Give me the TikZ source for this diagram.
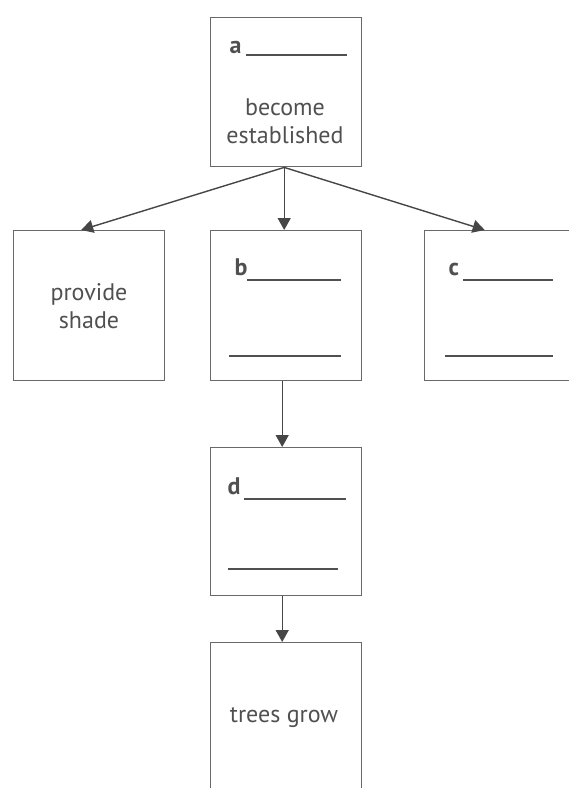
\documentclass[tikz,border=0pt]{standalone}
\usepackage{fontspec}
\setmainfont{PT Sans}
\usetikzlibrary{arrows.meta}

\definecolor{boxgray}{RGB}{105,105,105}
\definecolor{arrowgray}{RGB}{70,70,70}
\definecolor{textgray}{RGB}{80,80,80}

\begin{document}
\begin{tikzpicture}[
      x=1pt, y=-1pt,
      every node/.style={font=\fontsize{24}{28}\selectfont, text=textgray},
      box/.style={draw=boxgray, line width=1.4pt, minimum width=151pt, minimum height=149pt, anchor=north west, inner sep=0pt},
      wide/.style={draw=boxgray, line width=1.4pt, minimum width=151pt, minimum height=150pt, anchor=north west, inner sep=0pt},
      blank/.style={draw=textgray, line width=1.2pt},
      arr/.style={draw=arrowgray, line width=1.4pt, -{Triangle[width=13pt,length=12pt]}},
    ]

    \useasboundingbox (0,0) rectangle (569,788);
    \clip (0,0) rectangle (569,788);

    \node[box] (est) at (210,17) {};
    \node[wide] (shade) at (13,230) {};
    \node[wide] (bbox) at (210,230) {};
    \node[wide, minimum width=170pt] (cbox) at (424,230) {};
    \node[box, minimum height=148pt] (dbox) at (210,447) {};
    \node[box, minimum height=170pt] (trees) at (210,642) {};

    % texts
    \node[anchor=base west] (la) at (226,53) {\textbf{a}};
    \draw[blank] (246,55) -- (347,55);
    \node[align=center] (established) at (285,121) {become\\established};

    \node[align=center] (provide) at (89,306) {provide\\shade};

    \node[anchor=base west] (lb) at (231,275) {\textbf{b}};
    \draw[blank] (247,280) -- (341,280);
    \draw[blank] (229,356) -- (341,356);

    \node[anchor=base west] (lc) at (445,275) {\textbf{c}};
    \draw[blank] (463,280) -- (553,280);
    \draw[blank] (445,356) -- (553,356);

    \node[anchor=base west] (ld) at (224,494) {\textbf{d}};
    \draw[blank] (244,499) -- (346,499);
    \draw[blank] (228,569) -- (338,569);

    \node (grow) at (284,718) {trees grow};

    % arrows
    \draw[arr] ([xshift=-2pt]est.south) -- ([xshift=-8pt]shade.north);
    \draw[arr] ([xshift=-2pt]est.south) -- ([xshift=-2pt]bbox.north);
    \draw[arr] ([xshift=-2pt]est.south) -- ([xshift=-25pt]cbox.north);
    \draw[arr] ([xshift=-4pt]bbox.south) -- ([xshift=-4pt]dbox.north);
    \draw[arr] ([xshift=-4pt]dbox.south) -- ([xshift=-4pt]trees.north);

  \end{tikzpicture}
\end{document}
